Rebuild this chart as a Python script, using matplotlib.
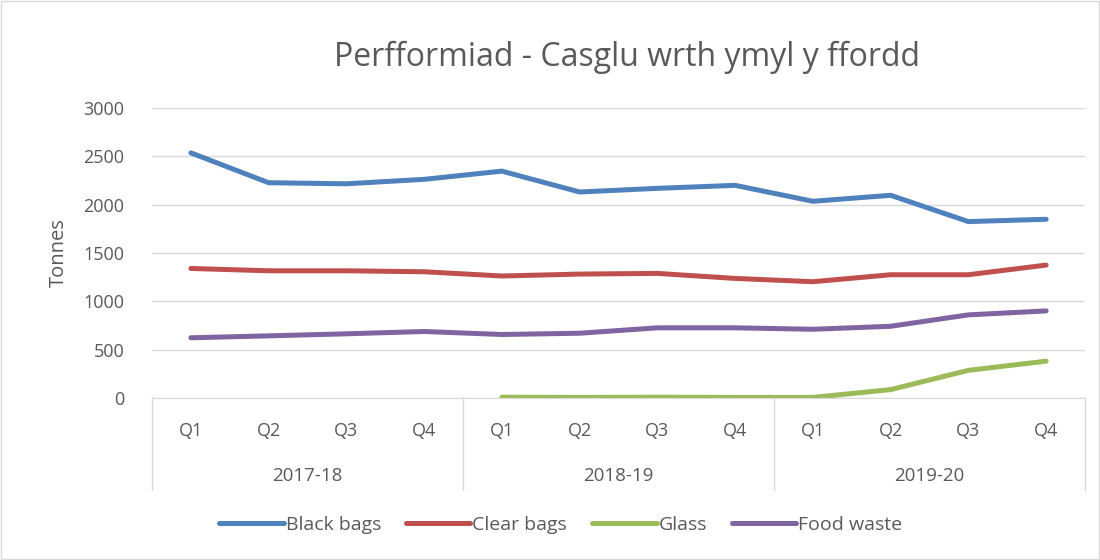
import matplotlib.pyplot as plt
import matplotlib.transforms as mtransforms
from matplotlib.patches import Rectangle
import numpy as np

plt.rcParams['font.family'] = ['Open Sans', 'DejaVu Sans']

quarters = ['Q1', 'Q2', 'Q3', 'Q4'] * 3
years = ['2017-18', '2018-19', '2019-20']

black_bags = [2536, 2227, 2216, 2262, 2347, 2131, 2169, 2200, 2035, 2097, 1825, 1849]
clear_bags = [1340, 1316, 1316, 1306, 1262, 1282, 1289, 1237, 1203, 1275, 1275, 1375]
glass = [np.nan, np.nan, np.nan, np.nan, 8, 6, 8, 6, 6, 87, 286, 381]
food_waste = [623, 643, 664, 688, 657, 670, 726, 726, 711, 742, 860, 901]

series = [
    ('Black bags', black_bags, '#4F81BD'),
    ('Clear bags', clear_bags, '#C0504D'),
    ('Glass', glass, '#9BBB59'),
    ('Food waste', food_waste, '#8064A2'),
]

text_col = '#595959'
grid_col = '#d9d9d9'

fig = plt.figure(figsize=(11, 5.6), dpi=100)
fig.patches.append(Rectangle((0.001, 0.001), 0.998, 0.998, transform=fig.transFigure,
                             fill=False, edgecolor=grid_col, lw=1))
ax = fig.add_axes([152 / 1100, 1 - 398 / 560, 933 / 1100, 290 / 560])

x = np.arange(len(quarters))
for name, vals, col in series:
    ax.plot(x, vals, color=col, lw=3.6, label=name, solid_capstyle='round')

ax.set_xlim(-0.5, len(quarters) - 0.5)
ax.set_ylim(0, 3000)
ax.set_yticks(range(0, 3001, 500))
ax.grid(axis='y', color=grid_col, lw=1)
ax.set_axisbelow(True)
for s in ['top', 'right', 'left']:
    ax.spines[s].set_visible(False)
ax.spines['bottom'].set_color(grid_col)
ax.set_xticks([])
ax.tick_params(axis='y', length=0, pad=20, labelsize=13, labelcolor=text_col)
ax.set_ylabel('Tonnes', fontsize=14.5, color=text_col, labelpad=10)

# two-level category axis
trans = mtransforms.blended_transform_factory(ax.transData, ax.transAxes)
for i, q in enumerate(quarters):
    ax.text(i, -33 / 290, q, transform=trans, ha='center', va='center',
            fontsize=13, color=text_col)
for j, yr in enumerate(years):
    ax.text(4 * j + 1.5, -78 / 290, yr, transform=trans, ha='center', va='center',
            fontsize=13.5, color=text_col)
for k in range(4):
    ax.plot([4 * k - 0.5, 4 * k - 0.5], [0, -92 / 290], transform=trans,
            color=grid_col, lw=1, clip_on=False)

fig.text(627 / 1100, 1 - 57 / 560, 'Perfformiad - Casglu wrth ymyl y ffordd',
         ha='center', va='center', fontsize=23, color=text_col)

leg = fig.legend(loc='center', bbox_to_anchor=(561 / 1100, 1 - 525 / 560), ncol=4,
                 frameon=False, fontsize=14, handlelength=3.3, handletextpad=0.1,
                 columnspacing=1.3)
for t in leg.get_texts():
    t.set_color(text_col)

fig.savefig('out.png', dpi=100)
